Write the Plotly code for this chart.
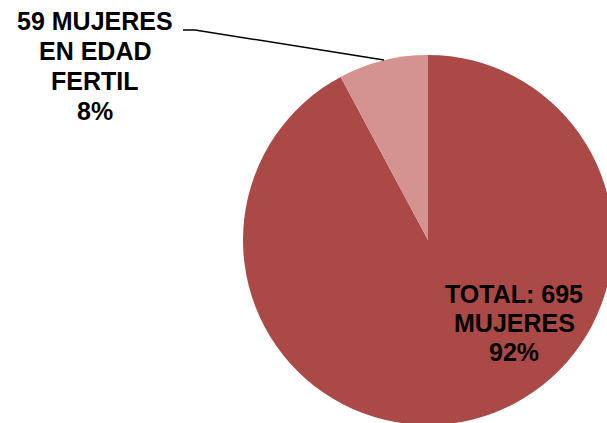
import plotly.graph_objects as go

# Mujeres atendidas: total y en edad fértil
categorias = ["TOTAL", "EN EDAD FERTIL"]
valores = [695, 59]
colores = ["#AB4946", "#D49391"]

W, H = 614, 426
total = sum(valores)
pct = [round(v * 100 / total) for v in valores]

lineas_total = [f"TOTAL: {valores[0]}", "MUJERES", f"{pct[0]}%"]
lineas_fertil = [f"{valores[1]} MUJERES", "EN EDAD", "FERTIL", f"{pct[1]}%"]


def px(x):
    return x / W


def py(y):
    return 1 - y / H


cx, cy, r = 428, 240, 185

fig = go.Figure(
    go.Pie(
        labels=categorias,
        values=valores,
        marker=dict(colors=colores, line=dict(width=0)),
        sort=False,
        direction="clockwise",
        rotation=0,
        textinfo="none",
        hoverinfo="label+value+percent",
        showlegend=False,
        domain=dict(x=[px(cx - r), px(cx + r)], y=[py(cy + r), py(cy - r)]),
    )
)

font = dict(family="Liberation Sans, Arial, sans-serif", size=25, color="black")


def etiqueta(lineas, x, y0, paso):
    for i, t in enumerate(lineas):
        fig.add_annotation(
            x=px(x), y=py(y0 + i * paso), xref="paper", yref="paper",
            xanchor="center", yanchor="middle",
            text=f"<b>{t}</b>", showarrow=False, font=font,
        )


etiqueta(lineas_total, 514, 294, 29)
etiqueta(lineas_fertil, 95, 21, 30)

# línea guía hacia la porción pequeña
fig.add_shape(
    type="path", xref="paper", yref="paper",
    path=f"M {px(183)},{py(30)} L {px(195)},{py(30)} L {px(384)},{py(60)}",
    line=dict(color="black", width=1.5),
)

fig.update_layout(
    width=W, height=H,
    margin=dict(l=0, r=0, t=0, b=0),
    paper_bgcolor="white", plot_bgcolor="white",
)

fig.write_html(
    "out.html",
    post_script="document.body.style.margin='0';document.body.style.overflow='hidden';"
                "document.documentElement.style.overflow='hidden';",
)
